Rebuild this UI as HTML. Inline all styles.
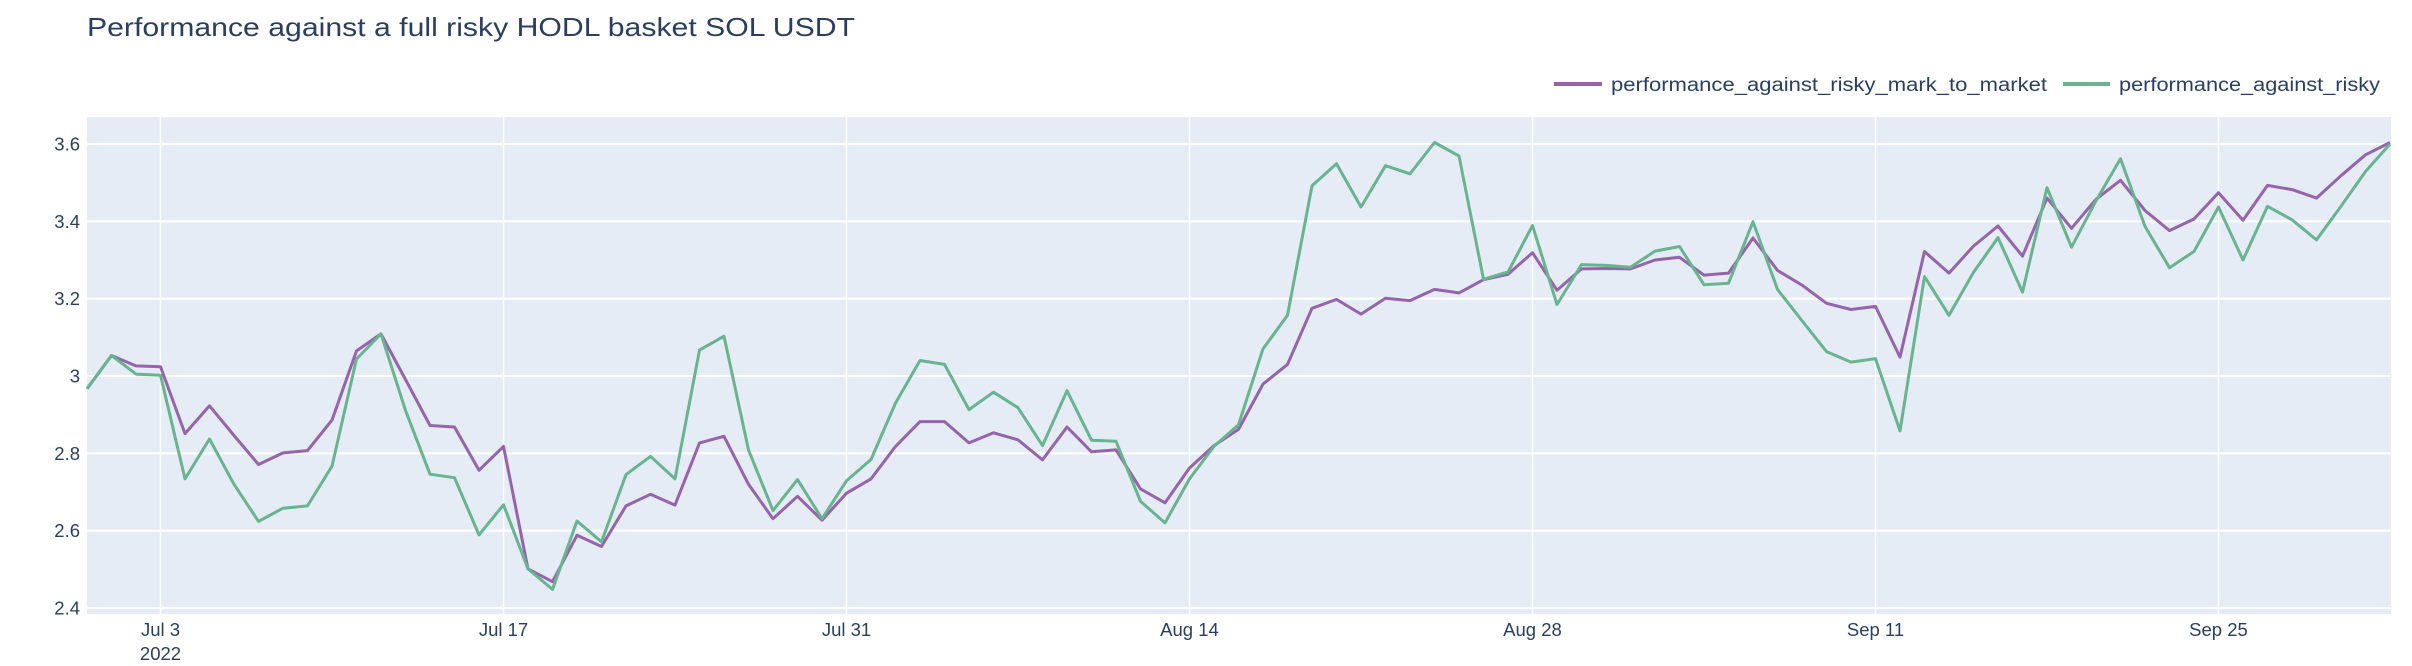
<!DOCTYPE html>
<html><head><meta charset="utf-8"><title>Performance chart</title>
<style>
html,body{margin:0;padding:0;background:#fff;}
svg{display:block;font-family:"Liberation Sans",sans-serif;}
</style></head>
<body>
<svg id="chart" width="2412" height="666" viewBox="0 0 2412 666" xmlns="http://www.w3.org/2000/svg">
<text x="87" y="36" font-size="26" fill="#2a3f5f" textLength="768" lengthAdjust="spacingAndGlyphs">Performance against a full risky HODL basket SOL USDT</text>
<g>
<g>
<line x1="1554" y1="84" x2="1602" y2="84" stroke="#9564ac" stroke-width="4"/>
<text x="1611" y="91" font-size="19" fill="#2a3f5f" textLength="436" lengthAdjust="spacingAndGlyphs">performance_against_risky_mark_to_market</text>
</g>
<g>
<line x1="2063" y1="84" x2="2110" y2="84" stroke="#68b48f" stroke-width="4"/>
<text x="2119" y="91" font-size="19" fill="#2a3f5f" textLength="261" lengthAdjust="spacingAndGlyphs">performance_against_risky</text>
</g>
</g>
<rect x="87" y="117" width="2304" height="497" fill="#e5ecf6"/>
<g id="grid"></g>
<g id="series"></g>
<g id="yticks"></g>
<g id="xticks"></g>
</svg>
<script>
const purpleValues = [2.967,3.053,3.026,3.024,2.851,2.923,2.846,2.771,2.801,2.807,2.886,3.065,3.109,2.991,2.872,2.868,2.756,2.818,2.501,2.468,2.588,2.559,2.664,2.694,2.666,2.827,2.844,2.720,2.631,2.689,
2.627,2.697,2.734,2.818,2.882,2.882,2.827,2.853,2.835,2.783,2.868,2.804,2.809,2.708,2.672,2.762,2.820,2.862,2.979,3.030,3.175,3.198,3.160,3.201,3.195,3.224,3.215,3.249,3.263,3.319,3.222,3.277,3.278,
3.277,3.300,3.307,3.261,3.266,3.357,3.273,3.235,3.188,3.172,3.180,3.049,3.322,3.266,3.336,3.388,3.310,3.460,3.382,3.457,3.506,3.428,3.376,3.406,3.474,3.403,3.493,3.482,3.460,3.518,3.572,3.604];
const greenValues = [2.967,3.053,3.005,3.002,2.734,2.837,2.720,2.624,2.658,2.664,2.767,3.044,3.109,2.911,2.746,2.737,2.589,2.667,2.501,2.448,2.625,2.571,2.745,2.792,2.734,3.067,3.103,2.809,2.652,2.732,
2.631,2.729,2.784,2.930,3.040,3.030,2.913,2.958,2.918,2.820,2.962,2.834,2.831,2.676,2.620,2.734,2.818,2.874,3.070,3.157,3.492,3.549,3.437,3.544,3.523,3.604,3.569,3.250,3.269,3.389,3.185,3.288,3.286,
3.281,3.323,3.335,3.236,3.240,3.399,3.224,3.143,3.063,3.036,3.045,2.858,3.257,3.157,3.268,3.358,3.217,3.487,3.333,3.453,3.562,3.387,3.280,3.322,3.437,3.300,3.439,3.404,3.352,3.439,3.529,3.600];
const yTickValues = [2.4,2.6,2.8,3.0,3.2,3.4,3.6];
const yTickLabels = ["2.4","2.6","2.8","3","3.2","3.4","3.6"];
const xTickDays = [3,17,31,45,59,73,87];
const xTickLabels = ["Jul 3","Jul 17","Jul 31","Aug 14","Aug 28","Sep 11","Sep 25"];

const NS = "http://www.w3.org/2000/svg";
const X0 = 87, X1 = 2390;
const nDays = purpleValues.length - 1;
function xScale(d){ return X0 + d * (X1 - X0) / nDays; }
function yScale(v){ return 144 + (3.6 - v) * (608 - 144) / 1.2; }
function mk(tag, attrs, parent){ const e = document.createElementNS(NS, tag); for (const k in attrs) e.setAttribute(k, attrs[k]); parent.appendChild(e); return e; }

const grid = document.getElementById('grid');
const yt = document.getElementById('yticks');
const xt = document.getElementById('xticks');
yTickValues.forEach((v, i) => {
  const y = yScale(v);
  const gl = mk('line', {x1: 87, x2: 2391, y1: y, y2: y, stroke: '#fff', 'stroke-width': 2}, grid);
  
  
  const t = mk('text', {x: 80, y: y + 6.5, 'font-size': 18.5, fill: '#2a3f5f', 'text-anchor': 'end'}, yt);
  t.textContent = yTickLabels[i];
  
  
});
xTickDays.forEach((d, i) => {
  const x = xScale(d);
  const gl = mk('line', {x1: x, x2: x, y1: 117, y2: 614, stroke: '#fff', 'stroke-width': 1.5}, grid);
  
  
  const t = mk('text', {x: x, y: 636, 'font-size': 18.5, fill: '#2a3f5f', 'text-anchor': 'middle'}, xt);
  t.textContent = xTickLabels[i];
  
  
});
const yr = mk('text', {x: xScale(3), y: 660, 'font-size': 18.5, fill: '#2a3f5f', 'text-anchor': 'middle'}, xt);
yr.textContent = "2022";



const series = document.getElementById('series');
function drawLine(vals, color, name){
  const pts = vals.map((v, i) => xScale(i).toFixed(1) + ',' + yScale(v).toFixed(1)).join(' ');
  const pl = mk('polyline', {points: pts, fill: 'none', stroke: color, 'stroke-width': 3, 'stroke-linejoin': 'round'}, series);
  
  
}
drawLine(purpleValues, '#9564ac', 'line-mark-to-market');
drawLine(greenValues, '#68b48f', 'line-against-risky');
</script>
</body></html>
